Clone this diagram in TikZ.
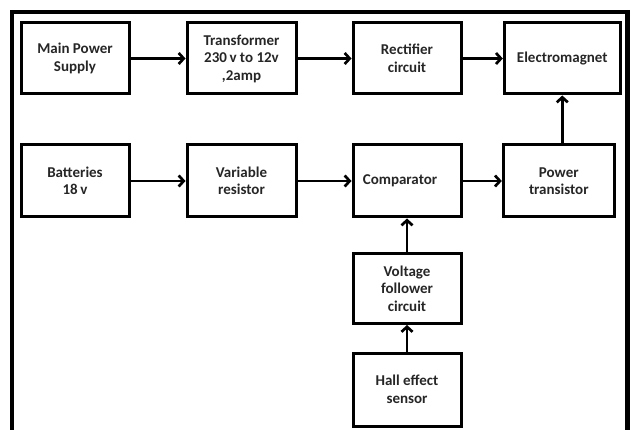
\documentclass[tikz,border=0pt]{standalone}
\usepackage{fontspec}
\setmainfont{Carlito}
\usetikzlibrary{arrows.meta}
\begin{document}
\begin{tikzpicture}[x=1pt,y=-1pt,
  blk/.style={draw=black,line width=3pt,minimum width=108pt,minimum height=71pt,
    align=center,inner sep=0pt,text=black!85,
    font=\fontsize{15}{17.5}\selectfont\bfseries},
  conn/.style={line width=2.7pt,-{Straight Barb[length=5pt,width=11pt]}}]
\useasboundingbox (0,0) rectangle (631,430);
\draw[line width=4.6pt] (12,12) rectangle (627.5,450);
% row 1
\node[blk] (mps) at (75,58.5) {Main Power\\Supply};
\node[blk,minimum width=109pt] (trf) at (241.5,58.5) {Transformer\\230\,v to 12v\\,2amp};
\node[blk,minimum width=108pt] (rec) at (407,58.5) {Rectifier\\circuit};
\node[blk,minimum width=116pt] (ele) at (562.3,58.5) {Electromagnet};
% row 2
\node[blk,minimum height=72pt] (bat) at (75,181) {Batteries\\18\,v};
\node[blk,minimum width=109pt,minimum height=72pt] (var) at (241.5,181) {Variable\\resistor};
\node[blk,minimum height=72pt] (cmp) at (407,181) {Comparator\hspace*{14pt}};
\node[blk,minimum width=111pt,minimum height=72pt] (ptr) at (558.8,181) {Power\\transistor};
% column
\node[blk,minimum height=70pt] (vfc) at (407,288.5) {Voltage\\follower\\circuit};
\node[blk,minimum height=73pt] (hal) at (407,389.5) {Hall effect\\sensor};
% connectors
\draw[conn] (mps) -- (trf);
\draw[conn] (trf) -- (rec);
\draw[conn] (rec) -- (ele);
\draw[conn] (bat) -- (var);
\draw[conn] (var) -- (cmp);
\draw[conn] (cmp) -- (ptr);
\draw[conn] (ele.south |- ptr.north) -- (ele.south);
\draw[conn] (vfc) -- (cmp);
\draw[conn] (hal) -- (vfc);
\end{tikzpicture}
\end{document}
